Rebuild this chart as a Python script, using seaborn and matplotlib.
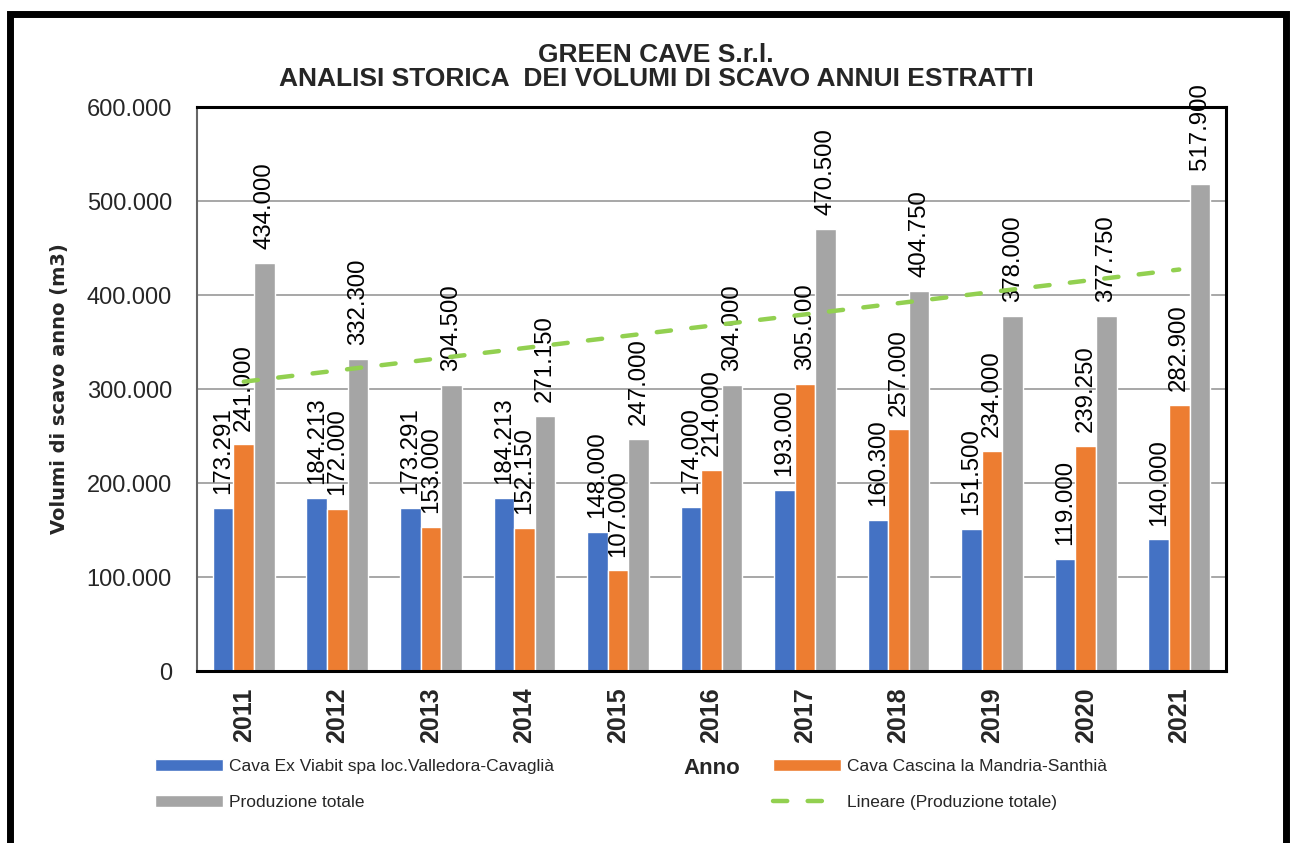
import numpy as np
import pandas as pd
import matplotlib
matplotlib.use("Agg")
import matplotlib.pyplot as plt
import seaborn as sns
from matplotlib.ticker import FuncFormatter
from matplotlib.patches import Rectangle, Patch
from matplotlib.lines import Line2D

sns.set_theme(style="white")
plt.rcParams['font.family'] = ['Liberation Sans', 'DejaVu Sans']

# dati (m3 per anno)
anni = ['2011', '2012', '2013', '2014', '2015', '2016', '2017', '2018', '2019', '2020', '2021']
viabit = [173291, 184213, 173291, 184213, 148000, 174000, 193000, 160300, 151500, 119000, 140000]
mandria = [241000, 172000, 153000, 152150, 107000, 214000, 305000, 257000, 234000, 239250, 282900]
totale = [434000, 332300, 304500, 271150, 247000, 304000, 470500, 404750, 378000, 377750, 517900]

serie = ['Cava Ex Viabit spa loc.Valledora-Cavaglià',
         'Cava Cascina la Mandria-Santhià',
         'Produzione totale']
colori = ['#4472C4', '#ED7D31', '#A5A5A5']
verde = '#92D050'


def fmt_it(v, pos=None):
    return f"{v:,.0f}".replace(',', '.')


df = pd.DataFrame({
    'Anno': anni * 3,
    'Serie': [serie[0]] * len(anni) + [serie[1]] * len(anni) + [serie[2]] * len(anni),
    'Volume': viabit + mandria + totale,
})

fig = plt.figure(figsize=(12.94, 8.43), dpi=100)
ax = fig.add_axes([197 / 1294, 1 - 671 / 843, (1226 - 197) / 1294, (671 - 107) / 843])

sns.barplot(data=df, x='Anno', y='Volume', hue='Serie', palette=colori,
            width=0.66, saturation=1, ax=ax, legend=False)

# etichette dati
for cont, vals in zip(ax.containers, [viabit, mandria, totale]):
    lab = ax.bar_label(cont, labels=[fmt_it(v) for v in vals], rotation=90,
                       padding=10, fontsize=17.3, color='black')
    for t in lab:
        t.set_clip_on(False)
        t.set_zorder(3)

# linea di tendenza lineare sulla produzione totale
sns.regplot(x=np.arange(len(anni)), y=np.array(totale), scatter=False, ci=None,
            truncate=True, ax=ax, color=verde,
            line_kws=dict(lw=3.2, ls=(0, (3.2, 4.6)), dash_capstyle='round', zorder=4))

ax.set_xlim(-0.5, len(anni) - 0.5)
ax.set_ylim(0, 600000)
ax.set_yticks(np.arange(0, 600001, 100000))
ax.yaxis.set_major_formatter(FuncFormatter(fmt_it))
ax.set_xticks(np.arange(len(anni)))
ax.set_xticklabels(anni, rotation=90, fontweight='bold', fontsize=18)
ax.set_xticks(np.arange(-0.5, len(anni)), minor=True)
ax.tick_params(axis='x', which='major', length=0, pad=12)
ax.tick_params(axis='x', which='minor', length=7, width=1.3, color='#808080', direction='out')
ax.tick_params(axis='y', length=5, width=1.3, color='#808080', direction='out', pad=13, labelsize=17)

ax.yaxis.grid(True, color='#A0A0A0', lw=1.3)
ax.set_axisbelow(True)
for s in ['top', 'right', 'bottom']:
    ax.spines[s].set_color('black')
    ax.spines[s].set_linewidth(2.2)
ax.spines['left'].set_color('#666666')
ax.spines['left'].set_linewidth(1.5)

ax.set_ylabel('Volumi di scavo anno (m3)', fontsize=14, fontweight='bold', family='DejaVu Sans')
ax.yaxis.set_label_coords((69 - 197) / 1029, 0.5)
ax.set_xlabel('Anno', fontsize=16, fontweight='bold', va='center')
ax.xaxis.set_label_coords(0.5, (671 - 768) / 564)

# titolo
fig.text(0.507, 1 - 55 / 843, 'GREEN CAVE S.r.l.', ha='center', va='center',
         fontsize=19, fontweight='bold')
fig.text(0.507, 1 - 79 / 843, 'ANALISI STORICA  DEI VOLUMI DI SCAVO ANNUI ESTRATTI',
         ha='center', va='center', fontsize=19, fontweight='bold')

# legenda su due colonne
h_blu = Patch(facecolor=colori[0])
h_ara = Patch(facecolor=colori[1])
h_gri = Patch(facecolor=colori[2])
h_lin = Line2D([], [], color=verde, lw=3.2, ls=(0, (3.2, 4.6)), dash_capstyle='round')
leg_kw = dict(frameon=False, loc='upper left', borderpad=0, borderaxespad=0,
              handlelength=3.9, handleheight=0.7, handletextpad=0.35, labelspacing=1.2,
              prop={'size': 12.5})
fig.legend([h_blu, h_gri], [serie[0], serie[2]], bbox_to_anchor=(155 / 1294, 1 - 759 / 843), **leg_kw)
fig.legend([h_ara, h_lin], [serie[1], 'Lineare (Produzione totale)'],
           bbox_to_anchor=(773 / 1294, 1 - 759 / 843), **leg_kw)

# cornice nera del grafico
fig.patches.append(Rectangle((10 / 1294, -0.05), (1286 - 10) / 1294, 1.05 - 14 / 843,
                             transform=fig.transFigure, fill=False, lw=5, edgecolor='black'))

fig.savefig('out.png', dpi=100)
